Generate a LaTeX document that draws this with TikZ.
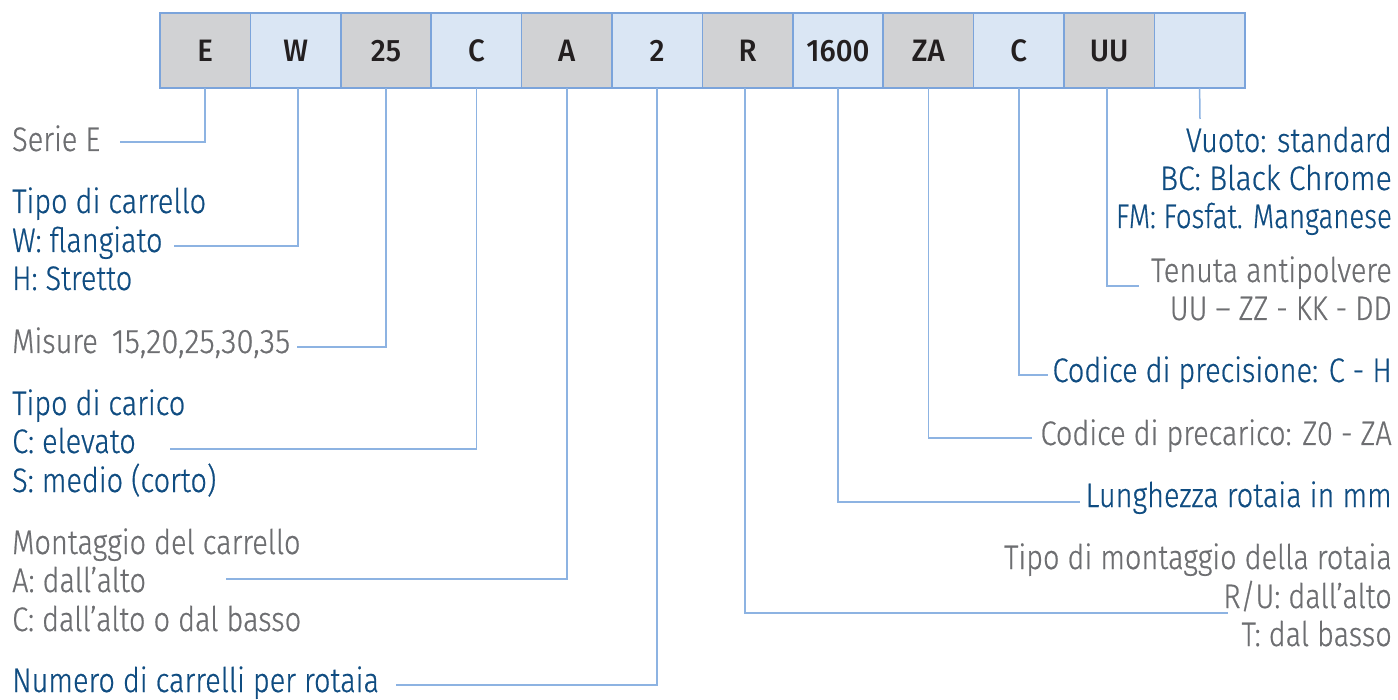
\documentclass[tikz,border=0pt]{standalone}
\usepackage{fontspec}
\setmainfont{Fira Sans Light}[FakeStretch=0.85,FakeBold=0.6]
\newfontfamily\boxfont{Fira Sans Medium}[FakeStretch=0.95]
\definecolor{txtgrey}{HTML}{6D6E71}
\definecolor{txtblue}{HTML}{0F4C81}
\definecolor{linecol}{HTML}{8DB3E2}
\definecolor{boxborder}{HTML}{7BA4DB}
\definecolor{fillgrey}{HTML}{D1D2D4}
\definecolor{fillblue}{HTML}{DAE6F4}
\definecolor{txtdark}{HTML}{231F20}
\tikzset{
  codebox/.style={draw=boxborder, line width=1.5pt, minimum width=90.4pt, minimum height=75pt,
    inner sep=0pt, outer sep=0pt, text height=22pt, text depth=0pt, text=txtdark,
    font=\boxfont\fontsize{31}{31}\selectfont},
  conn/.style={draw=linecol, line width=1.5pt},
  lt/.style={anchor=base west, inner sep=0pt, font=\fontsize{34}{38}\selectfont},
  rt/.style={anchor=base east, inner sep=0pt, font=\fontsize{34}{38}\selectfont},
  gr/.style={text=txtgrey},
  bl/.style={text=txtblue}
}
\begin{document}
\begin{tikzpicture}[x=1pt,y=-1pt]
\useasboundingbox (0,0) rectangle (1398,700);
\fill[white] (0,0) rectangle (1398,700);
% code boxes
\foreach \i/\t/\f in {1/E/fillgrey,2/W/fillblue,3/25/fillgrey,4/C/fillblue,5/A/fillgrey,6/2/fillblue,
  7/R/fillgrey,8/1600/fillblue,9/ZA/fillgrey,10/C/fillblue,11/UU/fillgrey,12/{}/fillblue}
  \node[codebox, fill=\f] (b\i) at ({205.2+(\i-1)*90.4},50.5) {\t};
% left texts
\node[lt,gr] (tSerie) at (12,151) {Serie E};
\node[lt,bl] (tTipoC) at (12,213) {Tipo di carrello};
\node[lt,bl] (tW) at (12,252) {W: flangiato};
\node[lt,bl] (tH) at (12,290) {H: Stretto};
\node[lt,gr] (tMis) at (12,353) {Misure\hspace{14pt}\scalebox{1.08}[1]{15,20,25,30,35}};
\node[lt,bl] (tCar) at (12,415) {Tipo di carico};
\node[lt,bl] (tCel) at (12,453) {C: elevato};
\node[lt,bl] (tSmed) at (12,492) {S: medio (corto)};
\node[lt,gr] (tMont) at (12,554) {Montaggio del carrello};
\node[lt,gr] (tAalto) at (12,592) {A: dall’alto};
\node[lt,gr] (tCalto) at (12,631) {C: dall’alto o dal basso};
\node[lt,bl] (tNum) at (12,692) {Numero di carrelli per rotaia};
% right texts
\node[rt,bl] (tVuoto) at (1392,152) {Vuoto: standard};
\node[rt,bl] (tBC) at (1392,190) {\scalebox{1.04}[1]{BC: Black Chrome}};
\node[rt,bl] (tFM) at (1392,228) {\scalebox{0.955}[1]{FM: Fosfat. Manganese}};
\node[rt,gr] (tTen) at (1392,282) {Tenuta antipolvere};
\node[rt,gr] (tUU) at (1392,320) {UU – ZZ - KK - DD};
\node[rt,bl] (tPrec) at (1392,382) {Codice di precisione: C - H};
\node[rt,gr] (tPrecar) at (1392,445) {Codice di precarico: Z0 - ZA};
\node[rt,bl] (tLun) at (1392,507) {Lunghezza rotaia in mm};
\node[rt,gr] (tTipoM) at (1392,569) {Tipo di montaggio della rotaia};
\node[rt,gr] (tRU) at (1392,608) {R/U: dall’alto};
\node[rt,gr] (tT) at (1392,646) {T: dal basso};
% connector ends
\coordinate (c1) at (120,142);
\coordinate (c2) at (174,246);
\coordinate (c3) at (297,347);
\coordinate (c4) at (170,449);
\coordinate (c5) at (226,579);
\coordinate (c6) at (396,685);
\coordinate (c7) at (1228,613);
\coordinate (c8) at (1080,502);
\coordinate (c9) at (1032,438);
\coordinate (c10) at (1048,375);
\coordinate (c11) at (1139,286);
\coordinate (c12) at (1200,119);
% connectors
\draw[conn] (b1.south) |- (c1);
\draw[conn] ([xshift=2.4pt]b2.south) |- (c2);
\draw[conn] (b3.south) |- (c3);
\draw[conn] (b4.south) |- (c4);
\draw[conn] (b5.south) |- (c5);
\draw[conn] (b6.south) |- (c6);
\draw[conn] ([xshift=-2.6pt]b7.south) |- (c7);
\draw[conn] (b8.south) |- (c8);
\draw[conn] (b9.south) |- (c9);
\draw[conn] (b10.south) |- (c10);
\draw[conn] ([xshift=-2.2pt]b11.south) |- (c11);
\draw[conn] (b12.south) -- (c12);
\end{tikzpicture}
\end{document}
